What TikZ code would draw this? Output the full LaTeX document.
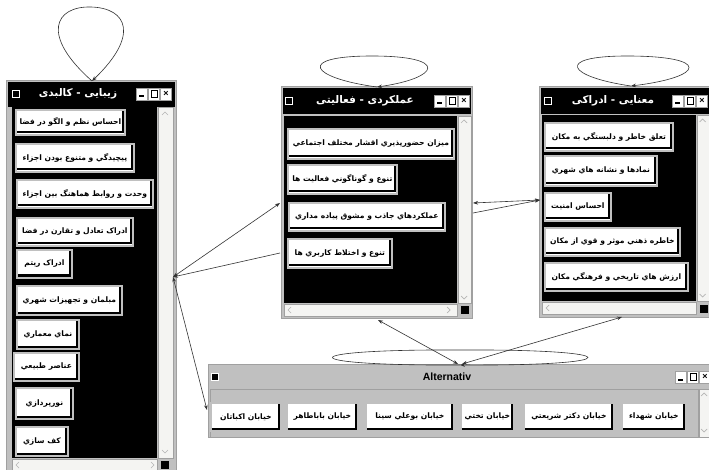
\documentclass[tikz,border=0pt]{standalone}
\usepackage{fontspec}
\setmainfont{Liberation Sans}
\newfontfamily\arabicfont[Script=Arabic]{DejaVu Sans}
\TeXXeTstate=1
\usetikzlibrary{arrows.meta}
\definecolor{silv}{HTML}{C0C0C0}
\definecolor{sbar}{HTML}{F4F4F2}
\definecolor{frm}{HTML}{A0A0A0}
\definecolor{chev}{HTML}{B4B4B4}
\newcommand\prs[1]{\beginR #1\endR}
\newcommand\winctl[3]{%
  \node[tbtn,minbtn] (#1min) at (#2+6,#3) {};
  \node[tbtn,maxbtn] (#1max) at (#2+18,#3) {};
  \node[tbtn,font=\bfseries\fontsize{9}{9}\selectfont] (#1cls) at (#2+30,#3) {×};}
\begin{document}
\begin{tikzpicture}[x=1pt,y=-1pt,
 >={Stealth[length=5pt,width=3.6pt]},
 winf/.style={draw=frm,fill=silv,line width=0.8pt,inner sep=0pt,anchor=north west},
 blk/.style={fill=black,inner sep=0pt,anchor=north west},
 sbv/.style={fill=sbar,draw=frm,line width=0.4pt,inner sep=0pt,anchor=north west},
 bs/.style 2 args={minimum width=#1pt,minimum height=#2pt},
 btn/.style={fill=white,draw=silv,line width=1.8pt,inner sep=0.5pt,anchor=north west,
   font=\arabicfont\bfseries\fontsize{7.6}{8}\selectfont,
   path picture={\draw[black,line width=2pt]
     ([xshift=-2.4pt,yshift=-1pt]path picture bounding box.north east) --
     ([xshift=-2.4pt,yshift=2.4pt]path picture bounding box.south east) --
     ([xshift=1pt,yshift=2.4pt]path picture bounding box.south west);}},
 ttl/.style={text=white,font=\arabicfont\bfseries\fontsize{10.5}{11}\selectfont},
 ticon/.style={fill=black,draw=white,line width=1.4pt,minimum size=7pt,inner sep=0pt},
 tbtn/.style={fill=white,draw=frm,line width=0.5pt,minimum width=11pt,minimum height=12pt,inner sep=0pt},
 minbtn/.style={path picture={\fill[black] ([xshift=2.5pt,yshift=2.5pt]path picture bounding box.south west) rectangle ([xshift=7pt,yshift=4.5pt]path picture bounding box.south west);}},
 maxbtn/.style={path picture={\draw[black,line width=0.8pt] ([xshift=2.5pt,yshift=2.5pt]path picture bounding box.south west) rectangle ([xshift=-2.5pt,yshift=-2.5pt]path picture bounding box.north east);}},
 chv/.style={draw=chev,line width=0.7pt},
 conn/.style={draw=black!80,line width=0.6pt}]
\useasboundingbox (0,0) rectangle (709,470);
\fill[white] (0,0) rectangle (709,470);

% ---------- left window
\node[winf,minimum width=170pt,minimum height=395pt] (lw) at (6,80) {};
\node[blk,minimum width=167pt,minimum height=25pt] (lwt) at (7.5,81.5) {};
\node[ttl] (lwtx) at (78,94) {\prs{زیبایی - کالبدی}};
\node[ticon] (lwi) at (16,94) {};
\winctl{lw}{136}{94}
\node[blk,minimum width=145pt,minimum height=351pt] (lwc) at (12,107) {};
\node[sbv,minimum width=15pt,minimum height=351pt] (lwv) at (158,107) {};
\node[sbv,minimum width=145pt,minimum height=12pt] (lwh) at (12,459) {};
\node[blk,minimum size=8pt] (lwk) at (161,461) {};
\draw[chv] (162,115) -- (165,112) -- (168,115);
\draw[chv] (162,450) -- (165,453) -- (168,450);
\draw[chv] (19,462) -- (16,465) -- (19,468);
\draw[chv] (151,462) -- (154,465) -- (151,468);

\node[btn,bs={109}{25}] (l1) at (15,109) {\prs{احساس نظم و الگو در فضا}};
\node[btn,bs={118}{28}] (l2) at (15,143) {\prs{پيچيدگي و متنوع بودن اجزاء}};
\node[btn,bs={136}{28}] (l3) at (16,179) {\prs{وحدت و روابط هماهنگ بين اجزاء}};
\node[btn,bs={116}{28}] (l4) at (16,217) {\prs{ادراک تعادل و تقارن در فضا}};
\node[btn,bs={55}{28}] (l5) at (16,249) {\prs{ادراک ريتم}};
\node[btn,bs={105}{29}] (l6) at (16,285) {\prs{مبلمان و تجهيزات شهري}};
\node[btn,bs={62}{29}] (l7) at (16,319) {\prs{نماي معماري}};
\node[btn,bs={65}{28}] (l8) at (13,352) {\prs{عناصر طبيعي}};
\node[btn,bs={57}{31}] (l9) at (15,387) {\prs{نورپردازي}};
\node[btn,bs={52}{29}] (l10) at (15,426) {\prs{کف سازي}};

% ---------- middle window
\node[winf,minimum width=191pt,minimum height=232pt] (mw) at (281,86) {};
\node[blk,minimum width=188pt,minimum height=26pt] (mwt) at (282.5,87.5) {};
\node[ttl] (mwtx) at (365,101) {\prs{عملکردی - فعالیتی}};
\node[ticon] (mwi) at (289,101) {};
\winctl{mw}{434}{101}
\node[blk,minimum width=173pt,minimum height=187pt] (mwc) at (284,116) {};
\node[sbv,minimum width=13pt,minimum height=187pt] (mwv) at (457.5,116) {};
\node[sbv,minimum width=173pt,minimum height=12pt] (mwh) at (284,304) {};
\node[blk,minimum size=8pt] (mwk) at (461,306) {};
\draw[chv] (461,123) -- (464,120) -- (467,123);
\draw[chv] (461,296) -- (464,299) -- (467,296);
\draw[chv] (291,307) -- (288,310) -- (291,313);
\draw[chv] (447,307) -- (450,310) -- (447,313);

\node[btn,bs={166}{30}] (m1) at (287,128) {\prs{ميزان حضورپذيري اقشار مختلف اجتماعي}};
\node[btn,bs={109}{29}] (m2) at (287,164) {\prs{تنوع و گوناگوني فعاليت ها}};
\node[btn,bs={156}{28}] (m3) at (288,202) {\prs{عملکردهاي جاذب و مشوق پياده مداري}};
\node[btn,bs={104}{29}] (m4) at (287,238) {\prs{تنوع و اختلاط کاربري ها}};

% ---------- right window
\node[winf,minimum width=172pt,minimum height=231pt] (rw) at (539,86) {};
\node[blk,minimum width=170pt,minimum height=26pt] (rwt) at (540.5,87.5) {};
\node[ttl] (rwtx) at (613,101) {\prs{معنایی - ادراکی}};
\node[ticon] (rwi) at (548,101) {};
\winctl{rw}{672}{101}
\node[blk,minimum width=154pt,minimum height=186pt] (rwc) at (542,115) {};
\node[sbv,minimum width=12pt,minimum height=186pt] (rwv) at (696.5,115) {};
\node[sbv,minimum width=154pt,minimum height=12pt] (rwh) at (542,302) {};
\node[blk,minimum size=8pt] (rwk) at (699.5,304.5) {};
\draw[chv] (699.5,122) -- (702.5,119) -- (705.5,122);
\draw[chv] (699.5,294) -- (702.5,297) -- (705.5,294);
\draw[chv] (549,305) -- (546,308) -- (549,311);

\node[btn,bs={128}{28}] (r1) at (544,122) {\prs{تعلق خاطر و دلبستگي به مکان}};
\node[btn,bs={112}{30}] (r2) at (544,155) {\prs{نمادها و نشانه هاي شهري}};
\node[btn,bs={66}{28}] (r3) at (544,192) {\prs{احساس امنيت}};
\node[btn,bs={135}{28}] (r4) at (544,227) {\prs{خاطره ذهني موثر و قوي از مکان}};
\node[btn,bs={143}{28}] (r5) at (544,262) {\prs{ارزش هاي تاريخي و فرهنگي مکان}};

% ---------- Alternativ window
\node[winf,minimum width=504pt,minimum height=73pt] (aw) at (207.5,364) {};
\node[font=\bfseries\fontsize{10.5}{11}\selectfont] (awtx) at (447,377) {Alternativ};
\node[ticon] (awi) at (215,377) {};
\winctl{aw}{675}{377}
\node[draw=frm,fill=silv,line width=0.6pt,inner sep=0pt,anchor=north west,minimum width=488pt,minimum height=48pt] (awc) at (210,389) {};
\node[sbv,minimum width=10pt,minimum height=48pt] (awv) at (699,389) {};
\draw[chv] (701,396) -- (704,393) -- (707,396);
\draw[chv] (701,429) -- (704,432) -- (707,429);

\node[btn,bs={64}{28}] (b1) at (621,402) {\prs{خيابان شهداء}};
\node[btn,bs={90}{28}] (b2) at (523,402) {\prs{خيابان دکتر شريعتي}};
\node[btn,bs={53}{28}] (b3) at (460,402) {\prs{خيابان تختي}};
\node[btn,bs={88}{28}] (b4) at (365,402) {\prs{خيابان بوعلي سينا}};
\node[btn,bs={71}{28}] (b5) at (286,402) {\prs{خيابان باباطاهر}};
\node[btn,bs={70}{28}] (b6) at (210,402) {\prs{خيابان اکباتان}};

% ---------- connector end points
\coordinate (ltip) at (92,81);
\coordinate (mtip) at (377,87);
\coordinate (rtip) at (631,86);
\coordinate (atip) at (460,365);
\coordinate (hubL) at (173,277);
\coordinate (mwL1) at (280,203);
\coordinate (mwL2) at (280,253);
\coordinate (awL) at (207,410);
\coordinate (mwR1) at (473,203);
\coordinate (mwR2) at (473,213);
\coordinate (rwL) at (540,200);
\coordinate (mwB) at (378,320);
\coordinate (rwB) at (622,317);
\coordinate (atipL) at (458,364);
\coordinate (atipR) at (462,364);

% ---------- self loops
\draw[conn,->] (ltip) .. controls (40,35) and (55,6) .. (91,7) .. controls (127,8) and (140,35) .. (ltip);
\draw[conn,->] (mtip) .. controls (310,78) and (295,56) .. (372,56) .. controls (450,56) and (440,78) .. (mtip);
\draw[conn,->] (rtip) .. controls (568,77) and (553,56) .. (627,56) .. controls (712,56) and (705,77) .. (rtip);
\draw[conn,->] (atip) .. controls (290,366) and (290,349) .. (460,350) .. controls (630,349) and (630,366) .. (atip);

% ---------- connectors
\draw[conn,<->] (hubL) -- (mwL1);
\draw[conn,->] (mwL2) -- (hubL);
\draw[conn,<->] (hubL) -- (awL);
\draw[conn,<->] (mwR1) -- (rwL);
\draw[conn,->] (mwR2) -- (rwL);
\draw[conn,<->] (mwB) -- (atipL);
\draw[conn,<->] (rwB) -- (atipR);
\end{tikzpicture}
\end{document}
